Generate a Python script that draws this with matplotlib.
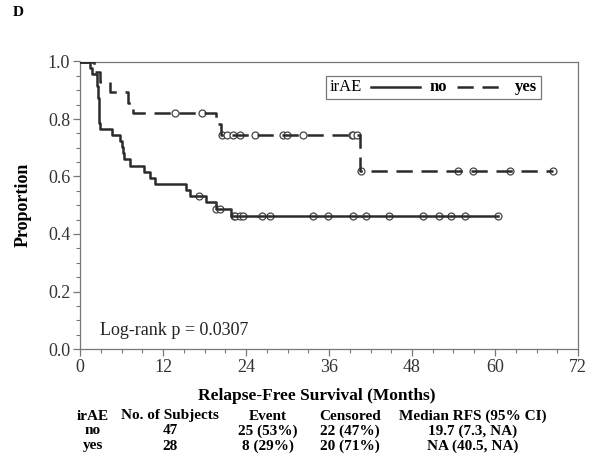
import numpy as np
import matplotlib
matplotlib.use("Agg")
import matplotlib.pyplot as plt
from matplotlib.lines import Line2D
from matplotlib.offsetbox import AnchoredOffsetbox, TextArea, DrawingArea, HPacker
from matplotlib.ticker import MultipleLocator, FormatStrFormatter

plt.rcParams['font.family'] = ['Liberation Serif', 'DejaVu Serif']

# Kaplan-Meier steps (months, proportion)
no_times = [0, 1.4, 1.7, 2.4, 2.6, 2.7, 2.8, 2.9, 4.6, 5.8, 6.0, 6.2, 6.3,
            7.2, 9.2, 10.1, 10.8, 15.3, 15.9, 18.2, 19.7, 21.8]
no_surv = [1.0, 0.979, 0.957, 0.915, 0.872, 0.830, 0.787, 0.766, 0.745, 0.723,
           0.702, 0.681, 0.660, 0.638, 0.617, 0.596, 0.574, 0.553, 0.532,
           0.510, 0.488, 0.463]
no_cens = [17.2, 19.7, 20.2, 22.2, 22.4, 23.1, 23.6, 26.3, 27.5, 33.7, 35.9,
           39.5, 41.3, 44.7, 49.6, 51.9, 53.6, 55.6, 60.4]

yes_times = [0, 2.0, 2.9, 4.3, 7.0, 7.7, 19.6, 20.4, 40.5]
yes_surv = [1.0, 0.964, 0.929, 0.893, 0.857, 0.821, 0.782, 0.743, 0.619]
yes_cens = [13.7, 17.7, 20.5, 21.2, 22.1, 23.1, 25.3, 29.4, 29.9, 32.3, 39.3,
            39.5, 40.0, 40.6, 54.7, 56.8, 62.1, 68.4]

# summary table under the plot
tbl_header = ['irAE', 'No. of Subjects', 'Event', 'Censored', 'Median RFS (95% CI)']
tbl_rows = [['no', '47', '25 (53%)', '22 (47%)', '19.7 (7.3, NA)'],
            ['yes', '28', '8 (29%)', '20 (71%)', 'NA (40.5, NA)']]
tbl_x = [93, 170, 268, 350, 473]  # column centres in pixels

W, H = 600, 467
fig = plt.figure(figsize=(6, 4.67), dpi=100)
ax = fig.add_axes([80 / W, 1 - 349 / H, 498 / W, 287.5 / H])

line_col = '#2b2b2b'
frame_col = '#777777'
dash = (0, (6.5, 3.5))


def step_curve(times, surv, cens, ls):
    end = max(max(cens), times[-1])
    t = list(times) + [end]
    s = list(surv) + [surv[-1]]
    ax.step(t, s, where='post', color=line_col, lw=1.8, linestyle=ls, zorder=3)
    idx = np.searchsorted(times, cens, side='right') - 1
    ax.plot(cens, np.array(surv)[idx], 'o', ms=5, mfc='white', mec='#444444',
            mew=0.9, zorder=2)


step_curve(no_times, no_surv, no_cens, '-')
step_curve(yes_times, yes_surv, yes_cens, dash)

ax.set_xlim(0, 72)
ax.set_ylim(0, 1.0)
ax.xaxis.set_major_locator(MultipleLocator(12))
ax.xaxis.set_minor_locator(MultipleLocator(3))
ax.yaxis.set_major_locator(MultipleLocator(0.2))
ax.yaxis.set_minor_locator(MultipleLocator(0.05))
ax.yaxis.set_major_formatter(FormatStrFormatter('%.1f'))
ax.tick_params(which='major', length=5, width=0.9, color=frame_col,
               labelsize=13, labelcolor='#333333', pad=2)
ax.tick_params(which='minor', length=3, width=0.8, color=frame_col)
for sp in ax.spines.values():
    sp.set_color(frame_col)
    sp.set_linewidth(0.9)

ax.text(2.9, 0.066, 'Log-rank p = 0.0307', fontsize=13, color='#222222',
        va='center', ha='left')

fig.text(23 / W, 1 - 205 / H, 'Proportion', rotation=90, fontsize=13,
         fontweight='bold', ha='center', va='center')
fig.text(317 / W, 1 - 396 / H, 'Relapse-Free Survival (Months)', fontsize=12.5,
         fontweight='bold', ha='center', va='center')
fig.text(13 / W, 1 - 13 / H, 'D', fontsize=11, fontweight='bold',
         ha='left', va='center')

row_y = [416, 431, 446]
for j, lab in enumerate(tbl_header):
    fig.text(tbl_x[j] / W, 1 - row_y[0] / H, lab, fontsize=11,
             fontweight='bold', ha='center', va='center')
for i, row in enumerate(tbl_rows):
    for j, val in enumerate(row):
        fig.text(tbl_x[j] / W, 1 - row_y[i + 1] / H, val, fontsize=11,
                 fontweight='bold', ha='center', va='center')


# legend: irAE  ---- no  - - yes
def sample(ls):
    da = DrawingArea(35, 8)
    da.add_artist(Line2D([0, 35], [4, 4], color=line_col, lw=1.8, linestyle=ls))
    return da


items = [TextArea('irAE', textprops=dict(fontsize=12)),
         sample('-'),
         TextArea('no', textprops=dict(fontsize=12, fontweight='bold')),
         sample(dash),
         TextArea('yes', textprops=dict(fontsize=12, fontweight='bold'))]
pack = HPacker(children=items, align='center', pad=0, sep=7)
box = AnchoredOffsetbox(loc='upper left', child=pack, pad=0.25, borderpad=0,
                        frameon=True, bbox_to_anchor=(326 / W, 1 - 76 / H),
                        bbox_transform=fig.transFigure)
box.patch.set_edgecolor(frame_col)
box.patch.set_linewidth(0.9)
box.patch.set_boxstyle('square', pad=0)
ax.add_artist(box)

fig.savefig('out.png', dpi=100)
